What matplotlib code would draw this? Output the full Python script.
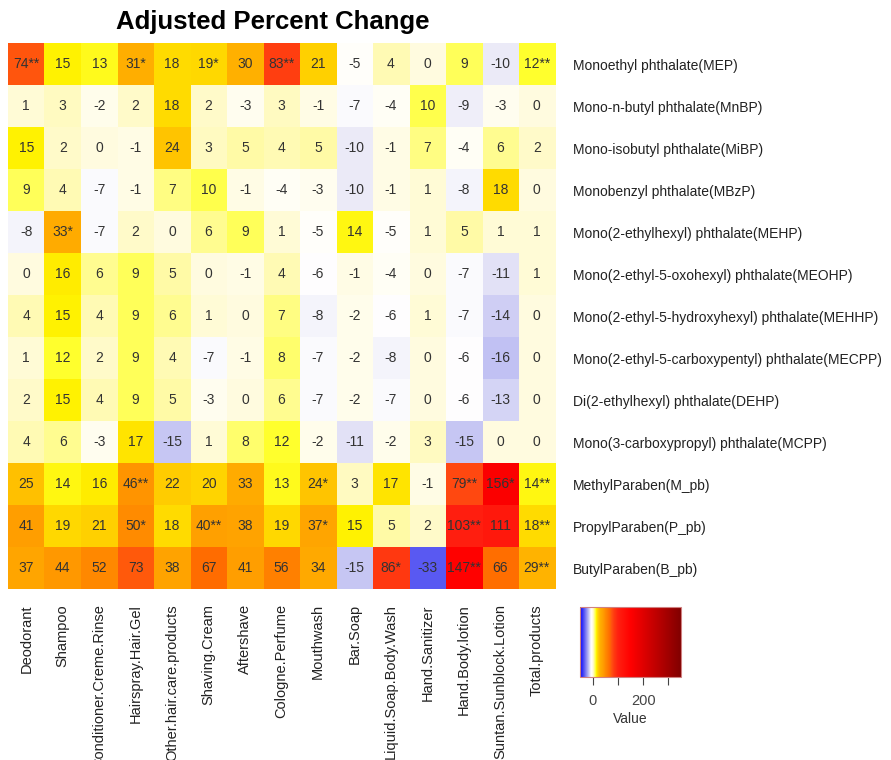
import matplotlib
matplotlib.use('Agg')
import matplotlib.pyplot as plt
import numpy as np
from matplotlib.colors import LinearSegmentedColormap

plt.rcParams['font.family'] = ['Liberation Sans', 'DejaVu Sans']

#%% Data

products = ['Deodorant', 'Shampoo', 'Conditioner.Creme.Rinse', 'Hairspray.Hair.Gel',
            'Other.hair.care.products', 'Shaving.Cream', 'Aftershave', 'Cologne.Perfume',
            'Mouthwash', 'Bar.Soap', 'Liquid.Soap.Body.Wash', 'Hand.Sanitizer',
            'Hand.Body.lotion', 'Suntan.Sunblock.Lotion', 'Total.products']

chemicals = ['Monoethyl phthalate(MEP)', 'Mono-n-butyl phthalate(MnBP)',
             'Mono-isobutyl phthalate(MiBP)', 'Monobenzyl phthalate(MBzP)',
             'Mono(2-ethylhexyl) phthalate(MEHP)', 'Mono(2-ethyl-5-oxohexyl) phthalate(MEOHP)',
             'Mono(2-ethyl-5-hydroxyhexyl) phthalate(MEHHP)',
             'Mono(2-ethyl-5-carboxypentyl) phthalate(MECPP)',
             'Di(2-ethylhexyl) phthalate(DEHP)', 'Mono(3-carboxypropyl) phthalate(MCPP)',
             'MethylParaben(M_pb)', 'PropylParaben(P_pb)', 'ButylParaben(B_pb)']

pct_change = np.array([
    [74, 15, 13, 31, 18, 19, 30, 83, 21, -5, 4, 0, 9, -10, 12],
    [1, 3, -2, 2, 18, 2, -3, 3, -1, -7, -4, 10, -9, -3, 0],
    [15, 2, 0, -1, 24, 3, 5, 4, 5, -10, -1, 7, -4, 6, 2],
    [9, 4, -7, -1, 7, 10, -1, -4, -3, -10, -1, 1, -8, 18, 0],
    [-8, 33, -7, 2, 0, 6, 9, 1, -5, 14, -5, 1, 5, 1, 1],
    [0, 16, 6, 9, 5, 0, -1, 4, -6, -1, -4, 0, -7, -11, 1],
    [4, 15, 4, 9, 6, 1, 0, 7, -8, -2, -6, 1, -7, -14, 0],
    [1, 12, 2, 9, 4, -7, -1, 8, -7, -2, -8, 0, -6, -16, 0],
    [2, 15, 4, 9, 5, -3, 0, 6, -7, -2, -7, 0, -6, -13, 0],
    [4, 6, -3, 17, -15, 1, 8, 12, -2, -11, -2, 3, -15, 0, 0],
    [25, 14, 16, 46, 22, 20, 33, 13, 24, 3, 17, -1, 79, 156, 14],
    [41, 19, 21, 50, 18, 40, 38, 19, 37, 15, 5, 2, 103, 111, 18],
    [37, 44, 52, 73, 38, 67, 41, 56, 34, -15, 86, -33, 147, 66, 29],
])

# significance marks, same shape as pct_change
stars = [
    ['**', '', '', '*', '', '*', '', '**', '', '', '', '', '', '', '**'],
    [''] * 15,
    [''] * 15,
    [''] * 15,
    ['', '*', '', '', '', '', '', '', '', '', '', '', '', '', ''],
    [''] * 15,
    [''] * 15,
    [''] * 15,
    [''] * 15,
    [''] * 15,
    ['', '', '', '**', '', '', '', '', '*', '', '', '', '**', '*', '**'],
    ['', '', '', '*', '', '**', '', '', '*', '', '', '', '**', '', '**'],
    ['', '', '', '', '', '', '', '', '', '', '*', '', '**', '', '**'],
]

#%% Colour scale (blue - white - yellow - red)

vmin, vmax = -50, 350
nodes = [(-50, '#0000ff'), (-33, '#5a5af2'), (-15, '#c8c8f4'), (-10, '#ecebf8'),
         (-6, '#ffffff'), (0, '#fffce0'), (4, '#fffab4'), (8, '#ffff6a'),
         (12, '#ffff2a'), (15, '#fff200'), (18, '#ffdc00'), (24, '#ffc400'),
         (30, '#ffb000'), (40, '#ffa000'), (50, '#ff8c00'), (67, '#ff6c00'),
         (75, '#ff5210'), (85, '#ff3a10'), (100, '#ff2010'), (150, '#ff0000'),
         (350, '#800000')]
cmap = LinearSegmentedColormap.from_list(
    'adj', [((v - vmin) / (vmax - vmin), c) for v, c in nodes], N=1024)

#%% Plot

fig = plt.figure(figsize=(8.91, 7.60), dpi=100)
ax = fig.add_axes([0.009, 0.225, 0.614, 0.718])
im = ax.imshow(pct_change, cmap=cmap, vmin=vmin, vmax=vmax, aspect='auto',
               interpolation='nearest')

for i in range(pct_change.shape[0]):
    for j in range(pct_change.shape[1]):
        ax.text(j, i, str(pct_change[i, j]) + stars[i][j], ha='center', va='center',
                fontsize=10, color='#333333')

ax.set_xticks(np.arange(len(products)))
ax.set_xticklabels(products, rotation=90, fontsize=10.5, color='#222222')
ax.set_yticks(np.arange(len(chemicals)))
ax.set_yticklabels(chemicals, fontsize=10, color='#222222')
ax.yaxis.tick_right()
ax.tick_params(axis='both', length=0)
ax.tick_params(axis='y', pad=13)
ax.tick_params(axis='x', pad=11)
for s in ax.spines.values():
    s.set_visible(False)

fig.text(273 / 891, 1 - 22 / 760, 'Adjusted Percent Change', fontsize=18.5,
         fontweight='bold', ha='center', va='center')

cax = fig.add_axes([0.651, 0.109, 0.1134, 0.092])
cb = fig.colorbar(im, cax=cax, orientation='horizontal')
cb.set_ticks([0, 100, 200, 300])
cb.set_ticklabels(['0', '', '200', ''])
cax.tick_params(labelsize=10.5, length=6, pad=6, colors='#444444')
cb.outline.set_edgecolor('#d08080')
cb.outline.set_linewidth(0.8)
cb.set_label('Value', fontsize=10, color='#333333', labelpad=3)

plt.savefig('out.png', dpi=100)
